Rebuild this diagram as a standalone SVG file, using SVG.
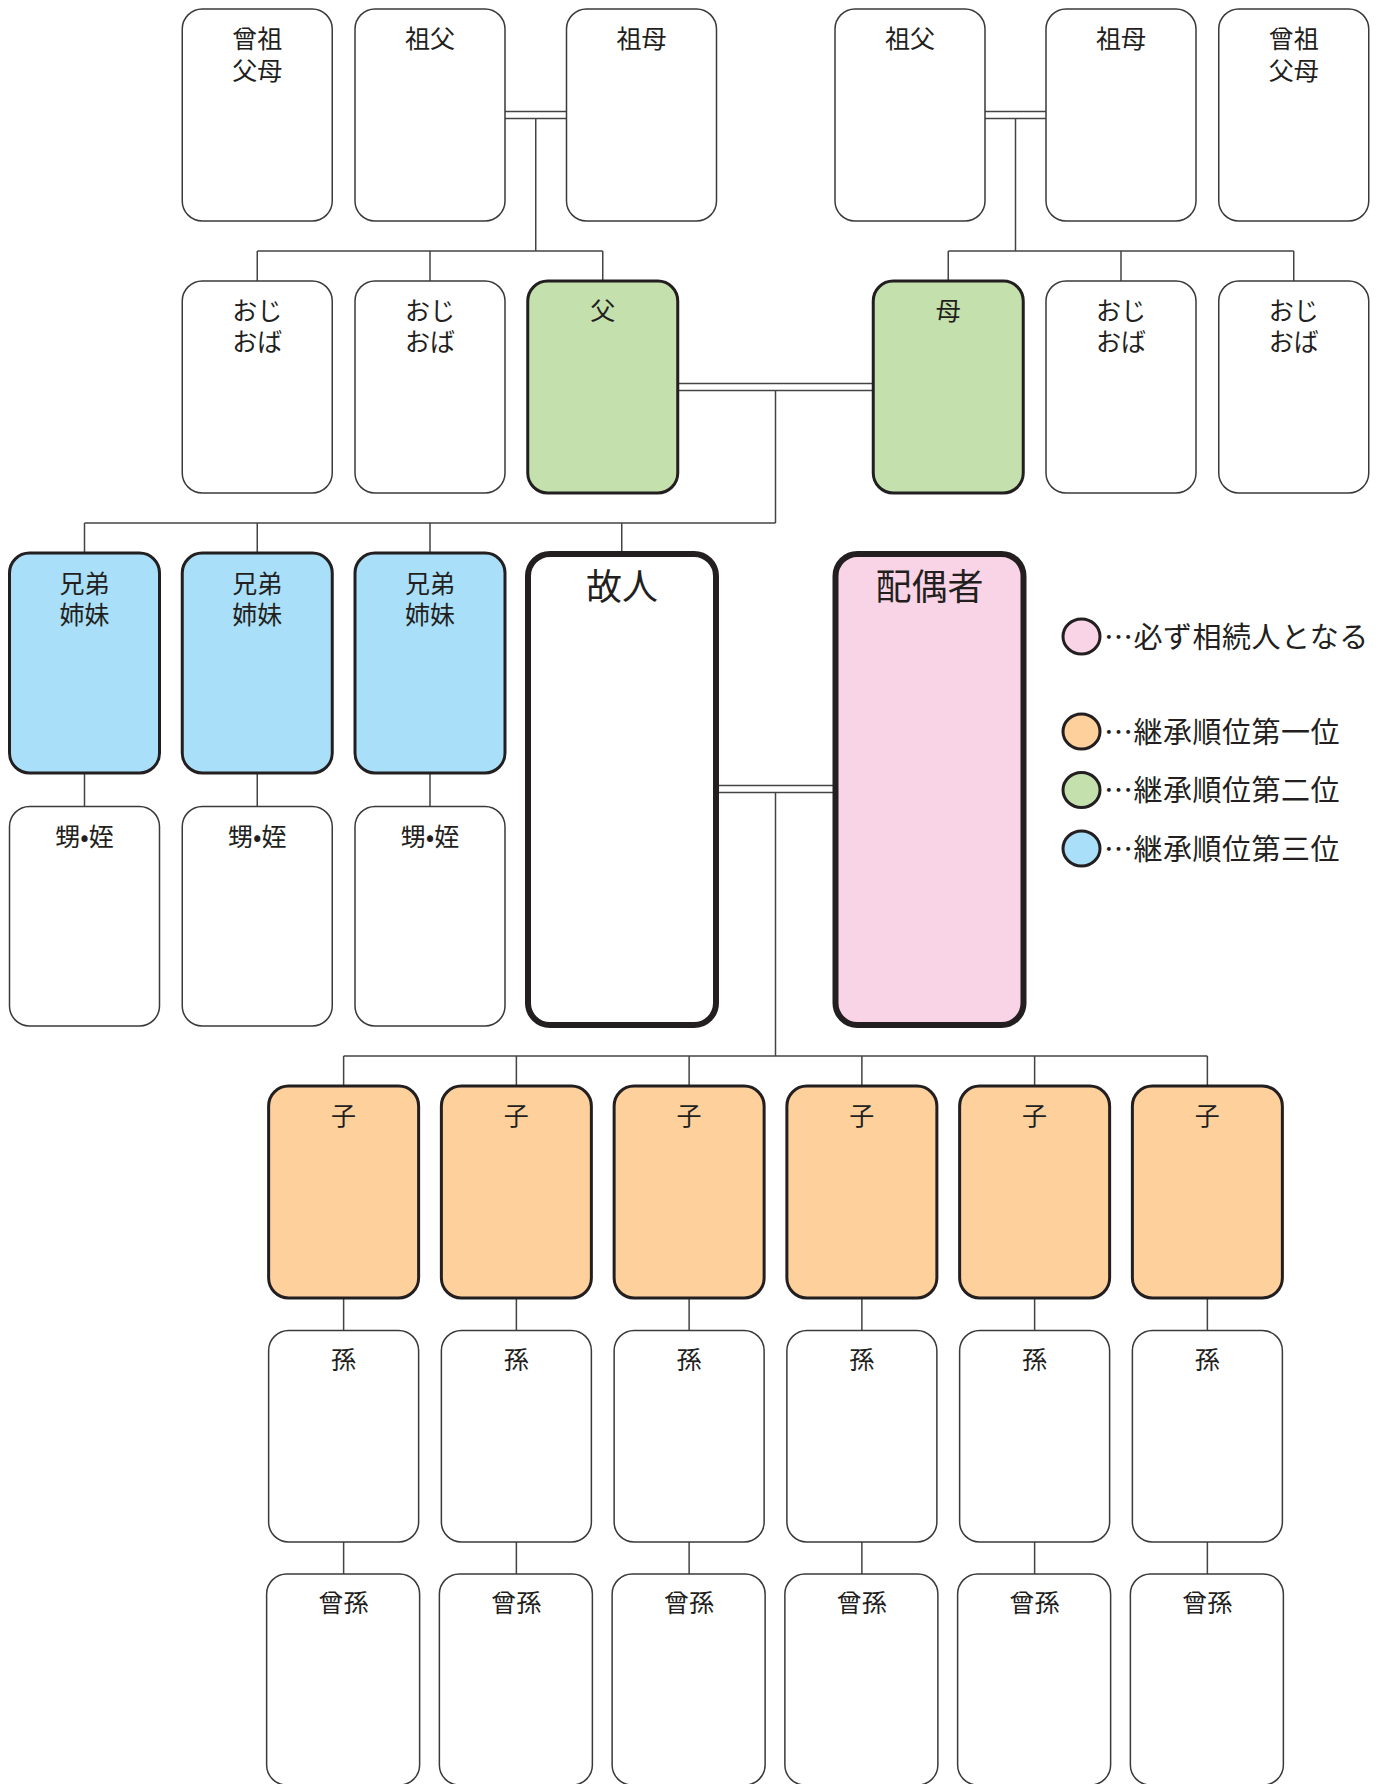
<svg xmlns="http://www.w3.org/2000/svg" width="1383" height="1784" viewBox="0 0 1383 1784">
<style>
.bx{fill:#ffffff;stroke:#3a3a3a;stroke-width:1.5}
.c1{stroke:#231f20;stroke-width:3}
.bd{stroke:#231f20;stroke-width:6}
.or{fill:#fdd09c}
.gr{fill:#c3e0ad}
.bl{fill:#a9dff8}
.pk{fill:#f9d4e6}
.wh{fill:#ffffff}
.ln{fill:none;stroke:#444444;stroke-width:1.5}
text{font-family:"Noto Sans CJK JP","Noto Sans CJK SC",sans-serif;fill:#231f20;text-anchor:middle}
.t{font-size:25px}
.tb{font-size:36px}
.lg{font-size:29px;text-anchor:start;letter-spacing:0.5px}
</style>
<rect width="1383" height="1784" fill="#ffffff"/>
<g id="connectors">
<path class="ln" d="M505 111.5H566.5M505 118.5H566.5M535.75 118.5V251M257.25 251H602.75M257.25 251V281M430 251V281M602.75 251V281"/>
<path class="ln" d="M985 111.5H1046M985 118.5H1046M1015.5 118.5V251M948.25 251H1293.75M948.25 251V281M1121 251V281M1293.75 251V281"/>
<path class="ln" d="M677.75 383.5H873.25M677.75 390.5H873.25M775.5 390.5V523M84.5 523H775.5M84.5 523V553M257.25 523V553M430 523V553M621.75 523V551"/>
<path class="ln" d="M84.5 773V806.5M257.25 773V806.5M430 773V806.5"/>
<path class="ln" d="M716 785.5H835.5M716 792.5H835.5M775.5 792.5V1056M343.625 1056H1207.375"/>
<path class="ln" d="M343.625 1056V1086M516.375 1056V1086M689.125 1056V1086M861.875 1056V1086M1034.625 1056V1086M1207.375 1056V1086"/>
<path class="ln" d="M343.625 1298V1330.5M516.375 1298V1330.5M689.125 1298V1330.5M861.875 1298V1330.5M1034.625 1298V1330.5M1207.375 1298V1330.5"/>
<path class="ln" d="M343.625 1542V1574M516.375 1542V1574M689.125 1542V1574M861.875 1542V1574M1034.625 1542V1574M1207.375 1542V1574"/>
</g>
<g id="n-sosofubo-l"><rect class="bx" x="182.25" y="9" width="150" height="212" rx="20"/><text class="t" x="257.25" y="48">曾祖<tspan x="257.25" dy="32">父母</tspan></text></g>
<g id="n-sofu-l"><rect class="bx" x="355" y="9" width="150" height="212" rx="20"/><text class="t" x="430" y="48">祖父</text></g>
<g id="n-sobo-l"><rect class="bx" x="566.5" y="9" width="150" height="212" rx="20"/><text class="t" x="641.5" y="48">祖母</text></g>
<g id="n-sofu-r"><rect class="bx" x="835" y="9" width="150" height="212" rx="20"/><text class="t" x="910" y="48">祖父</text></g>
<g id="n-sobo-r"><rect class="bx" x="1046" y="9" width="150" height="212" rx="20"/><text class="t" x="1121" y="48">祖母</text></g>
<g id="n-sosofubo-r"><rect class="bx" x="1218.75" y="9" width="150" height="212" rx="20"/><text class="t" x="1293.75" y="48">曾祖<tspan x="1293.75" dy="32">父母</tspan></text></g>
<g id="n-oji1"><rect class="bx" x="182.25" y="281" width="150" height="212" rx="20"/><text class="t" x="257.25" y="320">おじ<tspan x="257.25" dy="31">おば</tspan></text></g>
<g id="n-oji2"><rect class="bx" x="355" y="281" width="150" height="212" rx="20"/><text class="t" x="430" y="320">おじ<tspan x="430" dy="31">おば</tspan></text></g>
<g id="n-chichi"><rect class="c1 gr" x="527.75" y="281" width="150" height="212" rx="20"/><text class="t" x="602.75" y="320">父</text></g>
<g id="n-haha"><rect class="c1 gr" x="873.25" y="281" width="150" height="212" rx="20"/><text class="t" x="948.25" y="320">母</text></g>
<g id="n-oji3"><rect class="bx" x="1046" y="281" width="150" height="212" rx="20"/><text class="t" x="1121" y="320">おじ<tspan x="1121" dy="31">おば</tspan></text></g>
<g id="n-oji4"><rect class="bx" x="1218.75" y="281" width="150" height="212" rx="20"/><text class="t" x="1293.75" y="320">おじ<tspan x="1293.75" dy="31">おば</tspan></text></g>
<g id="n-kyodai1"><rect class="c1 bl" x="9.5" y="553" width="150" height="220" rx="20"/><text class="t" x="84.5" y="593">兄弟<tspan x="84.5" dy="31">姉妹</tspan></text></g>
<g id="n-kyodai2"><rect class="c1 bl" x="182.25" y="553" width="150" height="220" rx="20"/><text class="t" x="257.25" y="593">兄弟<tspan x="257.25" dy="31">姉妹</tspan></text></g>
<g id="n-kyodai3"><rect class="c1 bl" x="355" y="553" width="150" height="220" rx="20"/><text class="t" x="430" y="593">兄弟<tspan x="430" dy="31">姉妹</tspan></text></g>
<g id="n-kojin"><rect class="bd wh" x="528" y="554" width="188" height="471" rx="22"/><text class="tb" x="622" y="600">故人</text></g>
<g id="n-haigusha"><rect class="bd pk" x="835.5" y="554" width="188" height="471" rx="22"/><text class="tb" x="929.5" y="600">配偶者</text></g>
<g id="n-oimei1"><rect class="bx" x="9.5" y="806.5" width="150" height="219.5" rx="20"/><text class="t" x="84.5" y="846">甥•姪</text></g>
<g id="n-oimei2"><rect class="bx" x="182.25" y="806.5" width="150" height="219.5" rx="20"/><text class="t" x="257.25" y="846">甥•姪</text></g>
<g id="n-oimei3"><rect class="bx" x="355" y="806.5" width="150" height="219.5" rx="20"/><text class="t" x="430" y="846">甥•姪</text></g>
<g id="n-ko1"><rect class="c1 or" x="268.625" y="1086" width="150" height="212" rx="20"/><text class="t" x="343.625" y="1125">子</text></g>
<g id="n-ko2"><rect class="c1 or" x="441.375" y="1086" width="150" height="212" rx="20"/><text class="t" x="516.375" y="1125">子</text></g>
<g id="n-ko3"><rect class="c1 or" x="614.125" y="1086" width="150" height="212" rx="20"/><text class="t" x="689.125" y="1125">子</text></g>
<g id="n-ko4"><rect class="c1 or" x="786.875" y="1086" width="150" height="212" rx="20"/><text class="t" x="861.875" y="1125">子</text></g>
<g id="n-ko5"><rect class="c1 or" x="959.625" y="1086" width="150" height="212" rx="20"/><text class="t" x="1034.625" y="1125">子</text></g>
<g id="n-ko6"><rect class="c1 or" x="1132.375" y="1086" width="150" height="212" rx="20"/><text class="t" x="1207.375" y="1125">子</text></g>
<g id="n-mago1"><rect class="bx" x="268.625" y="1330.5" width="150" height="211.5" rx="20"/><text class="t" x="343.625" y="1369">孫</text></g>
<g id="n-mago2"><rect class="bx" x="441.375" y="1330.5" width="150" height="211.5" rx="20"/><text class="t" x="516.375" y="1369">孫</text></g>
<g id="n-mago3"><rect class="bx" x="614.125" y="1330.5" width="150" height="211.5" rx="20"/><text class="t" x="689.125" y="1369">孫</text></g>
<g id="n-mago4"><rect class="bx" x="786.875" y="1330.5" width="150" height="211.5" rx="20"/><text class="t" x="861.875" y="1369">孫</text></g>
<g id="n-mago5"><rect class="bx" x="959.625" y="1330.5" width="150" height="211.5" rx="20"/><text class="t" x="1034.625" y="1369">孫</text></g>
<g id="n-mago6"><rect class="bx" x="1132.375" y="1330.5" width="150" height="211.5" rx="20"/><text class="t" x="1207.375" y="1369">孫</text></g>
<g id="n-himago1"><rect class="bx" x="266.625" y="1574" width="153" height="211" rx="20"/><text class="t" x="343.625" y="1612">曾孫</text></g>
<g id="n-himago2"><rect class="bx" x="439.375" y="1574" width="153" height="211" rx="20"/><text class="t" x="516.375" y="1612">曾孫</text></g>
<g id="n-himago3"><rect class="bx" x="612.125" y="1574" width="153" height="211" rx="20"/><text class="t" x="689.125" y="1612">曾孫</text></g>
<g id="n-himago4"><rect class="bx" x="784.875" y="1574" width="153" height="211" rx="20"/><text class="t" x="861.875" y="1612">曾孫</text></g>
<g id="n-himago5"><rect class="bx" x="957.625" y="1574" width="153" height="211" rx="20"/><text class="t" x="1034.625" y="1612">曾孫</text></g>
<g id="n-himago6"><rect class="bx" x="1130.375" y="1574" width="153" height="211" rx="20"/><text class="t" x="1207.375" y="1612">曾孫</text></g>
<g id="legend">
<ellipse class="c1 pk" cx="1081.5" cy="636.5" rx="18.5" ry="17.5" stroke-width="2.5"/>
<text class="lg" x="1104" y="647.5">…必ず相続人となる</text>
<ellipse class="c1 or" cx="1081.5" cy="731.5" rx="18.5" ry="17.5" stroke-width="2.5"/>
<text class="lg" x="1104" y="742.5">…継承順位第一位</text>
<ellipse class="c1 gr" cx="1081.5" cy="790" rx="18.5" ry="17.5" stroke-width="2.5"/>
<text class="lg" x="1104" y="801">…継承順位第二位</text>
<ellipse class="c1 bl" cx="1081.5" cy="848.5" rx="18.5" ry="17.5" stroke-width="2.5"/>
<text class="lg" x="1104" y="859.5">…継承順位第三位</text>
</g>
</svg>
